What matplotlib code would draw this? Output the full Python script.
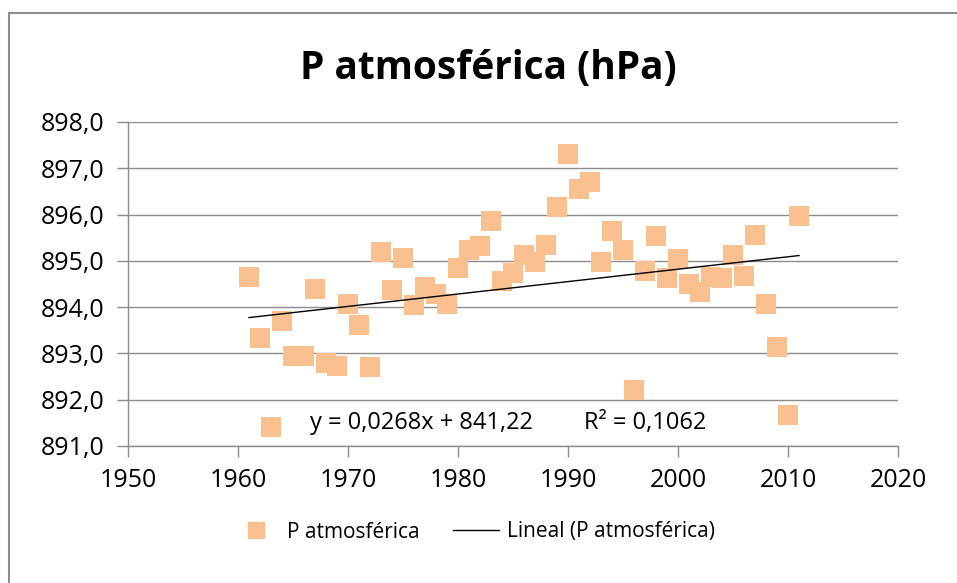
import matplotlib
matplotlib.use("Agg")
import matplotlib.pyplot as plt
from matplotlib.patches import Rectangle
from matplotlib.lines import Line2D
from matplotlib.ticker import FuncFormatter
import numpy as np

plt.rcParams['font.family'] = ['Open Sans', 'DejaVu Sans']

# datos
years = [1961, 1962, 1963, 1964, 1965, 1966, 1967, 1968, 1969, 1970,
         1971, 1972, 1973, 1974, 1975, 1976, 1977, 1978, 1979, 1980,
         1981, 1982, 1983, 1984, 1985, 1986, 1987, 1988, 1989, 1990,
         1991, 1992, 1993, 1994, 1995, 1996, 1997, 1998, 1999, 2000,
         2001, 2002, 2003, 2004, 2005, 2006, 2007, 2008, 2009, 2010, 2011]
pressure = [894.65, 893.34, 891.41, 893.70, 892.95, 892.95, 894.40, 892.80, 892.73, 894.07,
            893.62, 892.71, 895.19, 894.36, 895.06, 894.04, 894.43, 894.29, 894.07, 894.85,
            895.24, 895.32, 895.86, 894.57, 894.74, 895.13, 894.97, 895.34, 896.16, 897.31,
            896.55, 896.70, 894.98, 895.64, 895.24, 892.21, 894.79, 895.54, 894.63, 895.04,
            894.50, 894.33, 894.66, 894.64, 895.12, 894.68, 895.56, 894.07, 893.13, 891.68, 895.97]
slope = 0.0268
intercept = 841.22
r2 = 0.1062

orange = '#FAC090'

fig = plt.figure(figsize=(9.57, 5.83), dpi=100)
W, H = 957, 583
ax = fig.add_axes([128 / W, 1 - 446 / H, (898 - 128) / W, (446 - 122) / H])

ax.scatter(years, pressure, marker='s', s=190, color=orange, zorder=3, linewidths=0)

fit_x = np.array([years[0], years[-1]])
ax.plot(fit_x, slope * fit_x + intercept, color='black', lw=1.0, zorder=4)

ax.set_xlim(1950, 2020)
ax.set_ylim(891, 898)
ax.set_xticks(range(1950, 2021, 10))
ax.set_yticks(range(891, 899))
ax.yaxis.set_major_formatter(FuncFormatter(lambda v, p: f"{v:.1f}".replace('.', ',')))
ax.grid(axis='y', color='#8c8c8c', lw=1.0)
ax.set_axisbelow(True)
for s in ['top', 'right']:
    ax.spines[s].set_visible(False)
for s in ['left', 'bottom']:
    ax.spines[s].set_color('#8c8c8c')
    ax.spines[s].set_linewidth(1.0)
ax.tick_params(axis='both', colors='#8c8c8c', labelcolor='black', labelsize=18, length=8, width=1.0)
ax.tick_params(axis='y', pad=9)
ax.tick_params(axis='x', pad=8)

ax.text(1966.5, 891.5, "y = 0,0268x + 841,22", fontsize=17, va='center', ha='left')
ax.text(1991.5, 891.5, "R² = 0,1062", fontsize=17, va='center', ha='left')

fig.text(488 / W, 1 - 69 / H, "P atmosférica (hPa)", fontsize=28, fontweight='bold',
         ha='center', va='center')

h1 = Line2D([], [], marker='s', ls='none', color=orange, markersize=12)
h2 = Line2D([], [], color='black', lw=1.0)
fig.legend([h1, h2], ["P atmosférica", "Lineal (P atmosférica)"], ncol=2,
           loc='center', bbox_to_anchor=(474 / W, 1 - 532 / H), frameon=False,
           fontsize=15, handlelength=2.2, columnspacing=1.6, handletextpad=0.4)

fig.patches.append(Rectangle((9 / W, -0.1), 1.2, 1 - 13 / H + 0.1, transform=fig.transFigure,
                             fill=False, edgecolor='#8c8c8c', lw=1.5))

fig.savefig("out.png", dpi=100)
